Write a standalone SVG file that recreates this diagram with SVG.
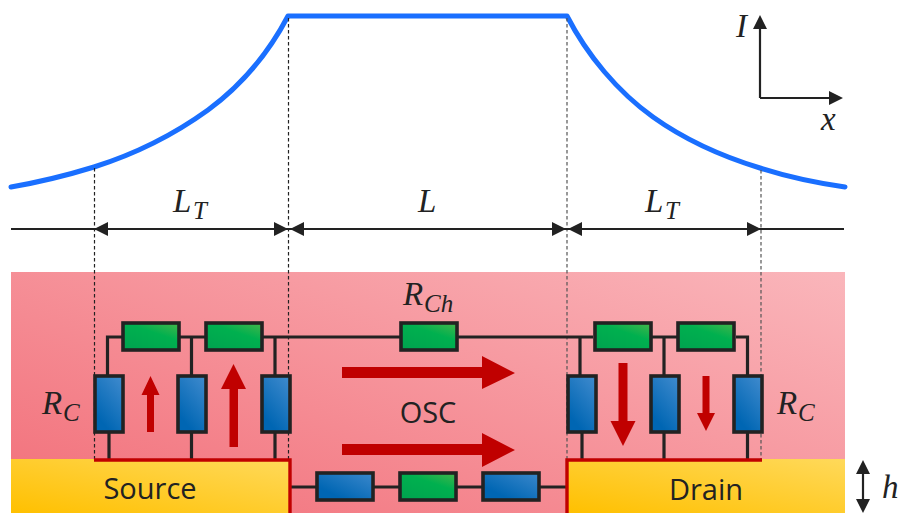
<svg xmlns="http://www.w3.org/2000/svg" width="904" height="513" viewBox="0 0 904 513">
<style>
.w{fill:none;stroke:#222;stroke-width:3.2}
.r{stroke:#222;stroke-width:3.6}
.g{fill:url(#gr)}
.b{fill:url(#bl)}
.bh{fill:url(#blh)}
.d{fill:none;stroke:#222;stroke-width:1.2;stroke-dasharray:3.500 2.500}
.a{fill:#222;stroke:none}
.red{fill:#c00000}
.m{fill:none;stroke:#222;stroke-width:2.200}
.ms{font-family:"Liberation Serif",serif;font-style:italic;fill:#222;font-size:33px}
.sub{font-family:"Liberation Serif",serif;font-style:italic;fill:#222;font-size:25px}
.t{font-family:"Open Sans",sans-serif;fill:#222;font-size:29px;text-anchor:middle}
</style>
<defs>
<linearGradient id="pkw" gradientUnits="userSpaceOnUse" x1="11" y1="513" x2="179" y2="37"><stop offset="0" stop-color="#f26f79"/><stop offset="1" stop-color="#fab6bb"/></linearGradient>
<linearGradient id="au" x1="0" y1="1" x2="1" y2="0"><stop offset="0" stop-color="#ffc000"/><stop offset="1" stop-color="#ffd95a"/></linearGradient>
<linearGradient id="gr" x1="0.2" y1="1" x2="0.9" y2="0"><stop offset="0" stop-color="#00a44f"/><stop offset="0.6" stop-color="#00b04f"/><stop offset="1" stop-color="#3fb54a"/></linearGradient>
<linearGradient id="bl" x1="0.2" y1="1" x2="0.8" y2="0"><stop offset="0.15" stop-color="#0066b3"/><stop offset="1" stop-color="#3b88cc"/></linearGradient>
<linearGradient id="blh" x1="0" y1="1" x2="1" y2="0"><stop offset="0.25" stop-color="#0066b3"/><stop offset="1" stop-color="#3b88cc"/></linearGradient>
</defs>
<rect id="channel" x="11" y="272" width="834" height="241" fill="url(#pkw)"/>
<g id="source"><rect x="11" y="459" width="279" height="54" fill="url(#au)"/><text class="t" x="150" y="499">Source</text></g>
<g id="drain"><rect x="567" y="459" width="278" height="54" fill="url(#au)"/><text class="t" x="706" y="500">Drain</text></g>
<path id="current" d="M11 187C40 182 68 175 94 167C132 155 172 136 208 110C235 90 265 60 288 16H567C587 55 618 92 653 117C688 142 724 157 760 168C788 177 817 183 845 187" fill="none" stroke="#1a6fff" stroke-width="5" stroke-linecap="round" stroke-linejoin="round"/>
<g id="connectors">
<path class="d" d="M94.500 168V460M288.500 18V460"/>
<path class="d" style="stroke:#555" d="M567 18V460M761 170V460"/>
<path class="m" d="M11 229H844"/>
<path class="a" d="M94 229l14-7v14zM288 229l-14-7v14zM290 229l14-7v14zM566 229l-14-7v14zM568 229l14-7v14zM761 229l-14-7v14z"/>
<path class="m" d="M760 98V28M760 98H831"/>
<path class="a" d="M760 15l7 14h-14zM843 98l-14-7v14z"/>
<path class="w" d="M107.500 375V337H123M180 337H205M262 337H400M458 337H593M652 337H677M736 337H747.500V375"/>
<path class="w" d="M191.500 337V375M275 337V375M580 337V375M664 337V375"/>
<path class="w" d="M109 433V460M191.500 433V460M275 433V460M582 433V460M664 433V460M747.500 433V460"/>
<path class="w" d="M291 487H316M373 487H399M456 487H482M539 487H567"/>
<path d="M94 460H290V513M567 513V460H762" fill="none" stroke="#c00000" stroke-width="3.400"/>
</g>
<g id="rc-source-1"><rect class="r g" x="123" y="323" width="56" height="27"/></g>
<g id="rc-source-2"><rect class="r g" x="206" y="323" width="56" height="27"/></g>
<g id="rc-source-v1"><rect class="r b" x="95" y="376" width="28" height="56"/></g>
<g id="rc-source-v2"><rect class="r b" x="178" y="376" width="28" height="56"/></g>
<g id="rc-source-v3"><rect class="r b" x="262" y="376" width="28" height="56"/></g>
<g id="rch"><rect class="r g" x="401" y="323" width="56" height="27"/></g>
<g id="rc-drain-v1"><rect class="r b" x="568" y="376" width="28" height="56"/></g>
<g id="rc-drain-v2"><rect class="r b" x="651" y="376" width="28" height="56"/></g>
<g id="rc-drain-v3"><rect class="r b" x="734" y="376" width="28" height="56"/></g>
<g id="rc-drain-1"><rect class="r g" x="595" y="323" width="56" height="27"/></g>
<g id="rc-drain-2"><rect class="r g" x="678" y="323" width="56" height="27"/></g>
<g id="osc-1"><rect class="r bh" x="317" y="473" width="56" height="27"/></g>
<g id="osc-2"><rect class="r g" x="400" y="473" width="56" height="27"/></g>
<g id="osc-3"><rect class="r bh" x="483" y="473" width="56" height="27"/></g>
<g id="arrows">
<path class="red" d="M147 432V395H141.500L150.500 376L159.500 395H154V432Z"/>
<path class="red" d="M229.500 447V389H221L233.500 364L246 389H238V447Z"/>
<path class="red" d="M618.500 363V421H610.500L623 446L635.500 421H627.500V363Z"/>
<path class="red" d="M702.500 376V413H697L706 431L715 413H709.500V376Z"/>
<path class="red" d="M342 367H482V356L515 373L482 389V378H342Z"/>
<path class="red" d="M342 444H482V433L515 450L482 467V455H342Z"/>
</g>
<g id="h-marker"><path class="m" d="M863 470V503"/><path class="a" d="M863 460l7 14h-14zM863 513l7-14h-14z"/></g>
<text class="ms" x="736" y="37">I</text>
<text class="ms" x="821" y="130">x</text>
<text class="ms" x="173" y="212">L</text><text class="sub" x="193" y="219">T</text>
<text class="ms" x="418" y="212">L</text>
<text class="ms" x="645" y="212">L</text><text class="sub" x="665" y="219">T</text>
<text class="ms" x="403" y="305">R</text><text class="sub" x="424" y="312">Ch</text>
<text class="ms" x="42" y="414">R</text><text class="sub" x="63" y="421">C</text>
<text class="ms" x="777" y="414">R</text><text class="sub" x="798" y="421">C</text>
<text class="t" x="428" y="423">OSC</text>
<text class="ms" x="882" y="498">h</text>
</svg>
